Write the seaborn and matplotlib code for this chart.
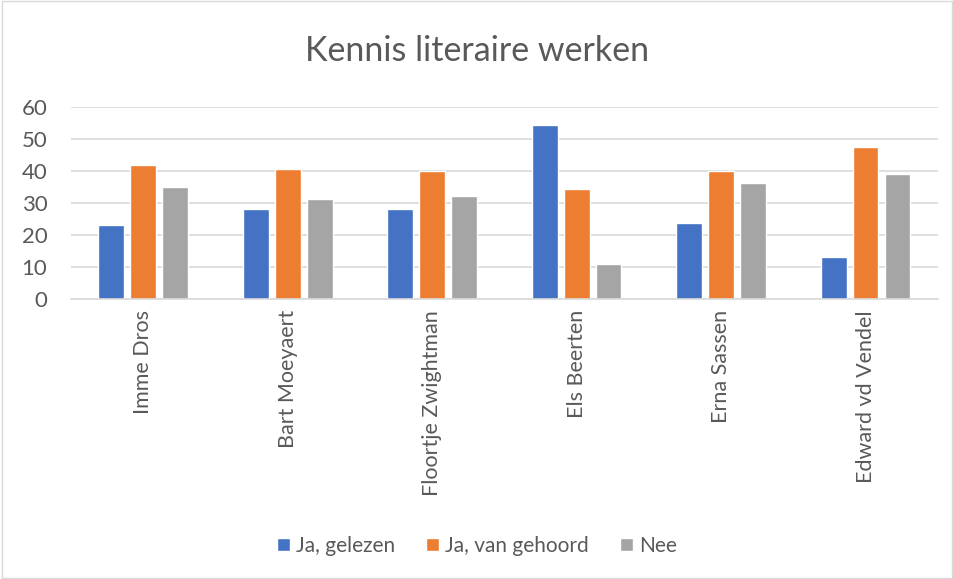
import pandas as pd
import seaborn as sns
from matplotlib import pyplot as plt
from matplotlib.patches import Rectangle

# data
auteurs = ["Imme Dros", "Bart Moeyaert", "Floortje Zwightman",
           "Els Beerten", "Erna Sassen", "Edward vd Vendel"]
gelezen = [23, 28, 28, 54.5, 23.7, 13.2]
gehoord = [42, 40.5, 40, 34.3, 40, 47.5]
nee = [35, 31.4, 32.1, 11, 36.2, 39]
reeksen = ["Ja, gelezen", "Ja, van gehoord", "Nee"]
kleuren = ["#4472C4", "#ED7D31", "#A5A5A5"]

df = pd.DataFrame({
	"auteur": auteurs * 3,
	"reeks": [reeksen[0]] * 6 + [reeksen[1]] * 6 + [reeksen[2]] * 6,
	"waarde": gelezen + gehoord + nee,
})

sns.set_style("white")
plt.rcParams["font.family"] = ["Lato", "DejaVu Sans"]
tekst = "#595959"

fig = plt.figure(figsize=(9.54, 5.79), dpi=100)
ax = fig.add_axes([0.0744, 0.4836, 0.9086, 0.3316])

sns.barplot(data=df, x="auteur", y="waarde", hue="reeks", palette=kleuren,
            width=0.663, gap=0.19, ax=ax, saturation=1, legend=True)

ax.set_ylim(0, 60)
ax.set_xlim(-0.5, 5.5)
ax.set_yticks(range(0, 61, 10))
ax.yaxis.grid(True, color="#D9D9D9", linewidth=1.2)
ax.set_axisbelow(True)
for s in ["top", "right", "left"]:
	ax.spines[s].set_visible(False)
ax.spines["bottom"].set_color("#D9D9D9")
ax.spines["bottom"].set_linewidth(1.2)
ax.set_xlabel("")
ax.set_ylabel("")
ax.tick_params(axis="both", length=0, labelcolor=tekst)
ax.tick_params(axis="x", pad=8, labelsize=15.5)
ax.tick_params(axis="y", pad=17, labelsize=16)
plt.setp(ax.get_xticklabels(), rotation=90)

fig.suptitle("Kennis literaire werken", y=0.94, fontsize=24.5, color=tekst)

ax.legend(loc="center", bbox_to_anchor=(0.5, 0.057), bbox_transform=fig.transFigure,
          ncol=3, frameon=False, fontsize=15, labelcolor=tekst,
          handlelength=0.6, handleheight=0.6, handletextpad=0.3, columnspacing=1.5)

fig.patches.append(Rectangle((0.002, 0.002), 0.996, 0.996, transform=fig.transFigure,
                             fill=False, edgecolor="#D9D9D9", linewidth=1))

fig.savefig("out.png", dpi=100)
